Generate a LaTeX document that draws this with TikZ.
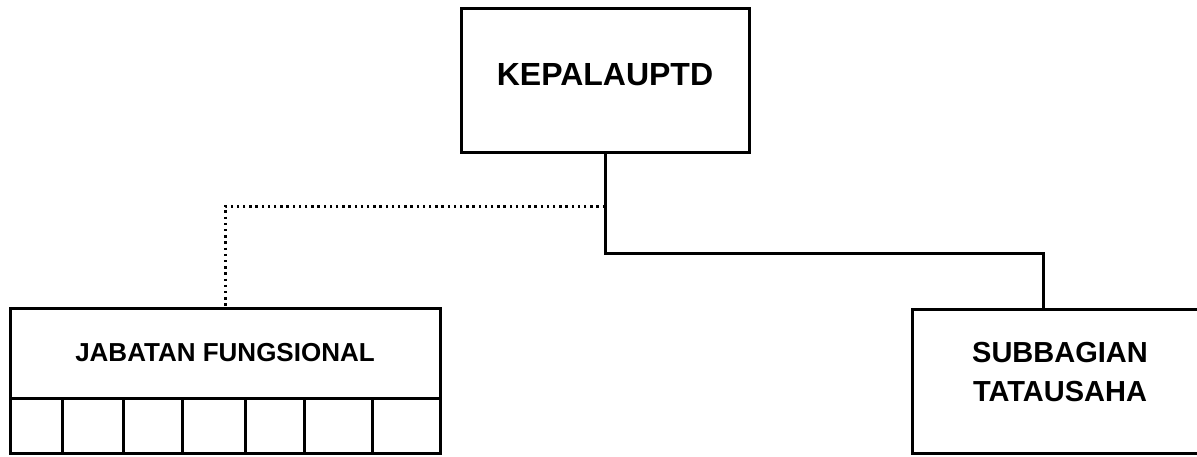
\documentclass[tikz,border=0pt]{standalone}
\usepackage{fontspec}
\setmainfont{Liberation Sans}
\begin{document}
\begin{tikzpicture}[
      x=0.5pt, y=-0.5pt,
      every node/.style={font=\bfseries},
      box/.style={draw, line width=1.5pt, inner sep=0pt, outer sep=0pt, minimum width=144pt, minimum height=72pt},
      garis/.style={line width=1.5pt},
      titik/.style={line width=1.5pt, dash pattern=on 1.2pt off 1.9pt}
    ]
    \useasboundingbox (0,0) rectangle (1197,456);

    \node[box, text depth=6pt, font=\bfseries\fontsize{16}{19}\selectfont] (kepala) at (605,80) {KEPALAUPTD};

    \node[box, minimum width=215pt, minimum height=45pt, font=\bfseries\fontsize{13}{16}\selectfont] (jabfung) at (225,353) {JABATAN FUNGSIONAL};
    \draw[garis] (jabfung.south west) rectangle ++(430,55);
    \foreach \x in {62,123,182,245,304,372}
      \draw[garis] (\x,398) -- ++(0,55);

    \node[box] (subbag) at (1056,381) {};
    \node[align=center, font=\bfseries\fontsize{14.5}{19.5}\selectfont] (subbagteks) at (1060,372) {SUBBAGIAN\\TATAUSAHA};

    \coordinate (siku) at (1043,253);
    \coordinate (belok) at (225,206);
    \draw[garis] (kepala.south) |- (siku) -- (siku |- subbag.north);
    \draw[titik] (kepala.south |- belok) -- (belok) -- (jabfung.north);

    \end{tikzpicture}
\end{document}
